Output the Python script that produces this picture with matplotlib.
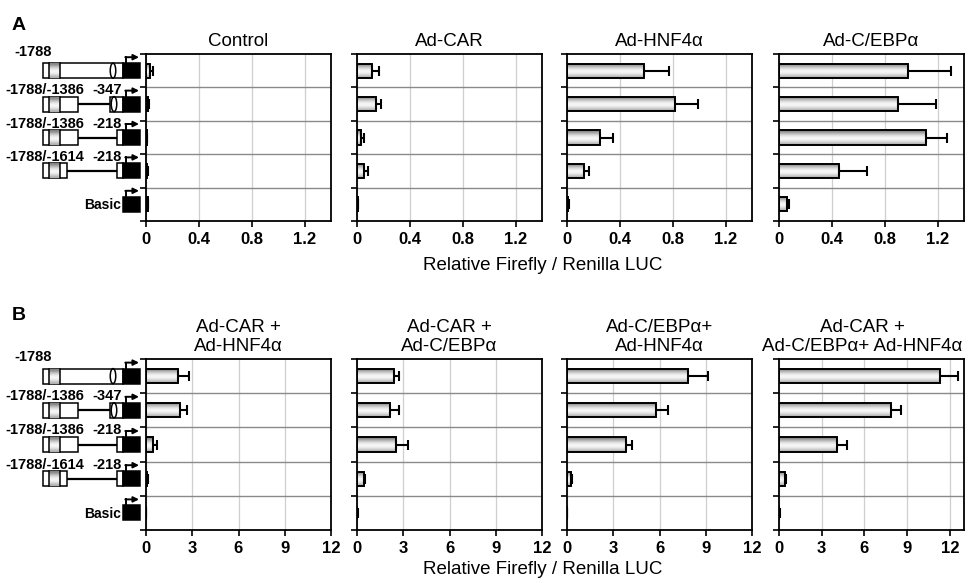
import numpy as np
import matplotlib
matplotlib.use("Agg")
import matplotlib.pyplot as plt
from matplotlib.patches import Rectangle, Ellipse

plt.rcParams['font.family'] = ['Liberation Sans', 'DejaVu Sans']

# ---------------- data ----------------
constructs = ["-1788", "-1788/-1386 -347", "-1788/-1386 -218", "-1788/-1614 -218", "Basic"]

titles_a = ["Control", "Ad-CAR", "Ad-HNF4\u03b1", "Ad-C/EBP\u03b1"]
vals_a = [
    [0.03, 0.012, 0.005, 0.008, 0.012],
    [0.114, 0.14, 0.03, 0.05, 0.005],
    [0.579, 0.82, 0.248, 0.127, 0.01],
    [0.973, 0.898, 1.112, 0.453, 0.063],
]
errs_a = [
    [0.02, 0.008, 0.003, 0.004, 0.004],
    [0.05, 0.04, 0.02, 0.034, 0.002],
    [0.19, 0.175, 0.10, 0.037, 0.004],
    [0.33, 0.29, 0.16, 0.214, 0.012],
]
xmax_a = [1.4, 1.4, 1.4, 1.4]
ticks_a = [0, 0.4, 0.8, 1.2]
ticklabels_a = ["0", "0.4", "0.8", "1.2"]

titles_b = ["Ad-CAR +\nAd-HNF4\u03b1", "Ad-CAR +\nAd-C/EBP\u03b1",
            "Ad-C/EBP\u03b1+\nAd-HNF4\u03b1", "Ad-CAR +\nAd-C/EBP\u03b1+ Ad-HNF4\u03b1"]
vals_b = [
    [2.06, 2.19, 0.48, 0.09, 0.02],
    [2.39, 2.15, 2.52, 0.44, 0.03],
    [7.85, 5.76, 3.80, 0.28, 0.02],
    [11.34, 7.84, 4.05, 0.42, 0.03],
]
errs_b = [
    [0.72, 0.48, 0.22, 0.03, 0.01],
    [0.35, 0.57, 0.81, 0.09, 0.01],
    [1.28, 0.76, 0.40, 0.07, 0.01],
    [1.25, 0.75, 0.73, 0.10, 0.01],
]
xmax_b = [12, 12, 12, 13]
ticks_b = [0, 3, 6, 9, 12]
ticklabels_b = ["0", "3", "6", "9", "12"]

# ---------------- layout ----------------
W, H = 968, 583
fig = plt.figure(figsize=(W / 100, H / 100), dpi=100)

dax = fig.add_axes([0, 0, 1, 1])
dax.set_xlim(0, W)
dax.set_ylim(H, 0)
dax.axis('off')

grad = np.array([0.5, 0.66, 0.82, 0.93, 0.98, 0.93, 0.82, 0.68]).reshape(-1, 1)

lefts_px = [146, 357, 567, 779]
ax_w_px = 185
title_x = [0.5, 0.5, 0.5, 0.5]
title_x_b = [0.5, 0.5, 0.5, 0.45]


def px_axes(left, top, bottom):
    return fig.add_axes([left / W, 1 - bottom / H, ax_w_px / W, (bottom - top) / H])


def draw_panel(ax, vals, errs, xmax, ticks, ticklabels, title, tx):
    n = len(vals)
    y = np.arange(n)
    bars = ax.barh(y, vals, height=0.42, facecolor='none', edgecolor='black',
                   linewidth=1.4, zorder=3)
    for p in bars.patches:
        x0, y0 = p.get_x(), p.get_y()
        w, h = p.get_width(), p.get_height()
        im = ax.imshow(grad, cmap='gray', vmin=0, vmax=1, aspect='auto',
                       extent=(x0, x0 + w, y0 + h, y0), interpolation='bicubic',
                       zorder=2)
        im.set_clip_path(p)
    ax.errorbar(vals, y, xerr=[np.zeros(n), errs], fmt='none', ecolor='black',
                elinewidth=1.5, capsize=3.5, capthick=1.5, zorder=4)
    ax.set_xlim(0, xmax)
    ax.set_ylim(n - 0.5, -0.5)
    ax.set_aspect('auto')
    ax.set_xticks(ticks)
    ax.set_xticklabels(ticklabels, fontsize=12, fontweight='bold')
    ax.set_yticks(np.arange(n + 1) - 0.5)
    ax.set_yticklabels([])
    for t in ticks:
        ax.axvline(t, color='#cfcfcf', lw=0.9, zorder=1)
    for b in np.arange(1, n) - 0.5:
        ax.axhline(b, color='#8a8a8a', lw=1.0, zorder=1)
    ax.tick_params(axis='both', direction='out', length=4, width=1.2, pad=3)
    ax.tick_params(axis='x', pad=4)
    for s in ax.spines.values():
        s.set_linewidth(1.3)
    ax.set_title(title, fontsize=13.5, pad=5.5, linespacing=1.2, x=tx)


def draw_construct(kind, cy, label):
    h = 15
    top, bot = cy - h / 2, cy + h / 2
    lw = 1.1

    def wbox(x0, x1):
        dax.add_patch(Rectangle((x0, top), x1 - x0, h, facecolor='white',
                                edgecolor='black', lw=lw, zorder=2))

    def front(x1):
        wbox(43, x1)
        dax.imshow(grad, cmap='gray', vmin=0, vmax=1, aspect='auto',
                   extent=(49, 60, bot, top), interpolation='bicubic', zorder=3)
        dax.plot([49, 49], [top, bot], color='black', lw=lw, zorder=4)
        dax.plot([60, 60], [top, bot], color='black', lw=lw, zorder=4)

    def ellipse(x):
        dax.add_patch(Ellipse((x, cy), 5.5, h, facecolor='none', edgecolor='black',
                              lw=lw, zorder=4))

    if kind == 0:
        front(123)
        ellipse(113)
    elif kind == 1:
        front(78)
        dax.plot([78, 110], [cy, cy], color='black', lw=1.6, zorder=1)
        wbox(110, 123)
        ellipse(114)
    elif kind in (2, 3):
        x1 = 78 if kind == 2 else 67
        front(x1)
        dax.plot([x1, 117], [cy, cy], color='black', lw=1.6, zorder=1)
        wbox(117, 123)
    # black promoter box
    dax.add_patch(Rectangle((123, top), 17, h, facecolor='black',
                            edgecolor='black', lw=lw, zorder=5))
    # bent arrow
    dax.plot([126, 126], [top, top - 6], color='black', lw=1.4, zorder=5)
    dax.annotate('', xy=(139, top - 6), xytext=(125.3, top - 6),
                 arrowprops=dict(arrowstyle='-|>', lw=1.4, color='black',
                                 mutation_scale=8, shrinkA=0, shrinkB=0),
                 zorder=5)
    # labels
    if kind == 0:
        dax.text(14, cy - 19, label, fontsize=10.5, fontweight='bold',
                 ha='left', va='center')
    elif kind in (1, 2, 3):
        left, right = label.split(' ')
        dax.text(5, cy - 14, left, fontsize=10.5, fontweight='bold',
                 ha='left', va='center')
        dax.text(122, cy - 14, right, fontsize=10.5, fontweight='bold',
                 ha='right', va='center')
    else:
        dax.text(121, cy + 1, label, fontsize=10, fontweight='bold',
                 ha='right', va='center')


panels = [
    (54, 221, vals_a, errs_a, xmax_a, ticks_a, ticklabels_a, titles_a, title_x, 265),
    (359, 530, vals_b, errs_b, xmax_b, ticks_b, ticklabels_b, titles_b, title_x_b, 570),
]
for top, bottom, vals, errs, xmaxs, ticks, tl, titles, txs, xl_y in panels:
    for i in range(4):
        ax = px_axes(lefts_px[i], top, bottom)
        draw_panel(ax, vals[i], errs[i], xmaxs[i], ticks, tl, titles[i], txs[i])
    rh = (bottom - top) / len(constructs)
    for k, lab in enumerate(constructs):
        draw_construct(k, top + (k + 0.5) * rh, lab)
    fig.text(543 / W, 1 - xl_y / H, "Relative Firefly / Renilla LUC",
             fontsize=13.5, ha='center', va='center')

fig.text(19 / W, 1 - 26 / H, "A", fontsize=14, fontweight='bold', ha='center', va='center')
fig.text(19 / W, 1 - 316 / H, "B", fontsize=14, fontweight='bold', ha='center', va='center')

fig.savefig("out.png", dpi=100)
